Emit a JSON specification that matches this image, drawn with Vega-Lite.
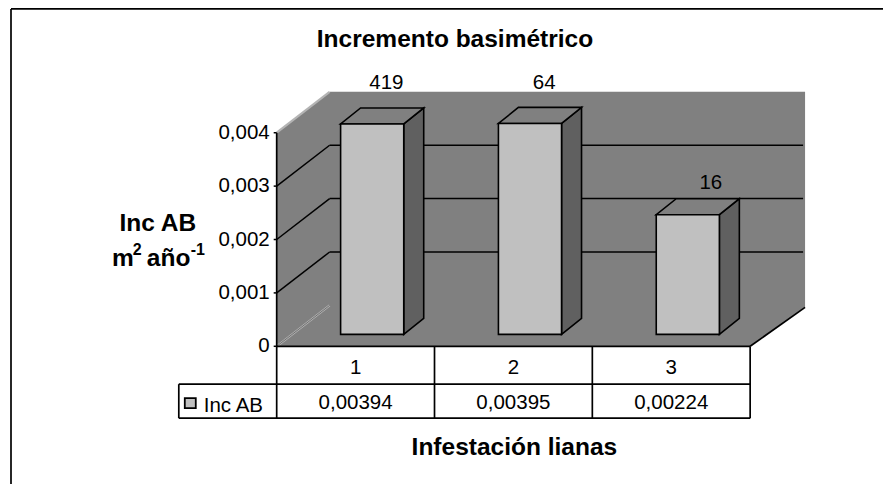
{
"$schema":"https://vega.github.io/schema/vega-lite/v6.json",
"width":884,"height":485,"padding":0,
"autosize":{"type":"fit","contains":"padding"},
"background":"white",
"config":{"view":{"stroke":null},"axis":{"disable":true},"legend":{"disable":true},"text":{"font":"Liberation Sans"}},
"datasets":{
"barras":[{"categoria":1,"incremento":0.00394,"n":419,"etiqueta":"0,00394"},{"categoria":2,"incremento":0.00395,"n":64,"etiqueta":"0,00395"},{"categoria":3,"incremento":0.00224,"n":16,"etiqueta":"0,00224"}],
"marcas":[{"tick":0,"label":"0"},{"tick":0.001,"label":"0,001"},{"tick":0.002,"label":"0,002"},{"tick":0.003,"label":"0,003"},{"tick":0.004,"label":"0,004"}],
"pared":[{"x":0.5,"y":0,"y2":0.004},{"x":0.8354,"y":0,"y2":0.004766},{"x":3.5,"y":0,"y2":0.004766},{"x":3.848,"y":0.000729,"y2":0.004766}],
"lineas":[
{"x":-1.1835,"x2":-1.1835,"y":0.006318,"y2":-0.00258},
{"x":-1.1835,"x2":4.3418,"y":0.006318,"y2":0.006318},
{"x":0.5,"x2":0.5,"y":0.004,"y2":-0.001346},
{"x":1.5,"x2":1.5,"y":0,"y2":-0.001346},
{"x":2.5,"x2":2.5,"y":0,"y2":-0.001346},
{"x":3.5,"x2":3.5,"y":0,"y2":-0.001346},
{"x":-0.1203,"x2":-0.1203,"y":-0.00071,"y2":-0.001346},
{"x":0.5,"x2":3.5,"y":0,"y2":0},
{"x":-0.1203,"x2":3.5,"y":-0.00071,"y2":-0.00071},
{"x":-0.1203,"x2":3.5,"y":-0.001346,"y2":-0.001346},
{"x":3.5,"x2":3.848,"y":0,"y2":0.000729}
],
"bordes":[{"x":0.5,"x2":0.8354,"y":0.004,"y2":0.004766},{"x":0.5,"x2":0.8354,"y":0,"y2":0.000766}],
"negrita":[
{"t":"Incremento basimétrico","x":1.6297,"y":0.005738},
{"t":"Infestación lianas","x":2.006,"y":-0.001907},
{"t":"Inc AB","x":-0.2532,"y":0.002299}
]
},
"layer":[
{"data":{"name":"lineas"},"transform":[{"filter":"datum.x<-1"}],"mark":{"type":"rule","color":"black","strokeWidth":1.7},
 "encoding":{"x":{"field":"x","type":"quantitative","scale":{"domain":[-1.2532,4.3418],"nice":false,"zero":false}},"x2":{"field":"x2"},
 "y":{"field":"y","type":"quantitative","scale":{"domain":[-0.0025794,0.006486],"nice":false,"zero":false}},"y2":{"field":"y2"}}},
{"data":{"name":"barras"},"transform":[{"filter":"datum.incremento>0.003"},{"calculate":"datum.categoria+0.105+0.09","as":"vx"},{"calculate":"0.004766+0.00005","as":"vy"}],
 "mark":{"type":"text","fontSize":20.5,"baseline":"alphabetic","align":"center","color":"black"},
 "encoding":{"x":{"field":"vx","type":"quantitative"},"y":{"field":"vy","type":"quantitative"},"text":{"field":"n"}}},
{"data":{"name":"pared"},"mark":{"type":"area","orient":"vertical","color":"#808080"},
 "encoding":{"x":{"field":"x","type":"quantitative"},"y":{"field":"y","type":"quantitative"},"y2":{"field":"y2"}}},
{"data":{"name":"marcas"},"transform":[{"filter":"datum.tick>0 && datum.tick<0.004"},{"calculate":"datum.tick+0.000766","as":"yb"},{"calculate":"0.5","as":"x1"},{"calculate":"0.8354","as":"x2"}],
 "mark":{"type":"rule","color":"black","strokeWidth":1.5},
 "encoding":{"x":{"field":"x1","type":"quantitative"},"x2":{"field":"x2"},"y":{"field":"tick","type":"quantitative"},"y2":{"field":"yb"}}},
{"data":{"name":"marcas"},"transform":[{"filter":"datum.tick>0 && datum.tick<0.004"},{"calculate":"datum.tick+0.000766","as":"yb"},{"calculate":"0.8354","as":"x1"},{"calculate":"3.8354","as":"x2"}],
 "mark":{"type":"rule","color":"black","strokeWidth":1.5},
 "encoding":{"x":{"field":"x1","type":"quantitative"},"x2":{"field":"x2"},"y":{"field":"yb","type":"quantitative"}}},
{"data":{"name":"bordes"},"mark":{"type":"rule","color":"#b4b4b4","strokeWidth":2.2},
 "encoding":{"x":{"field":"x","type":"quantitative"},"x2":{"field":"x2"},"y":{"field":"y","type":"quantitative"},"y2":{"field":"y2"}}},
{"data":{"name":"bordes"},"transform":[{"filter":"datum.y==0"}],"mark":{"type":"rule","color":"#606060","strokeWidth":0.8},
 "encoding":{"x":{"field":"x","type":"quantitative"},"x2":{"field":"x2"},"y":{"field":"y","type":"quantitative"},"y2":{"field":"y2"}}},
{"data":{"name":"barras"},"transform":[{"calculate":"[0,1]","as":"k"},{"flatten":["k"]},{"calculate":"datum.categoria+0.305+datum.k*0.1266","as":"vx"},{"calculate":"0.000224+datum.k*0.0003","as":"vy"},{"calculate":"datum.incremento+0.000224+datum.k*0.0003","as":"vy2"}],
 "mark":{"type":"area","orient":"vertical","color":"#606060","stroke":"black","strokeWidth":1.6},
 "encoding":{"x":{"field":"vx","type":"quantitative"},"y":{"field":"vy","type":"quantitative"},"y2":{"field":"vy2"},"detail":{"field":"categoria"}}},
{"data":{"name":"barras"},"transform":[{"calculate":"[0,1,2,3]","as":"k"},{"flatten":["k"]},{"calculate":"datum.categoria+0.105-0.2","as":"L"},{"calculate":"datum.categoria+0.305","as":"R"},{"calculate":"datum.incremento+0.000224","as":"T"},{"calculate":"[datum.L,datum.L+0.1266,datum.R,datum.R+0.1266][datum.k]","as":"vx"},{"calculate":"[datum.T,datum.T,datum.T,datum.T+0.0003][datum.k]","as":"vy"},{"calculate":"[datum.T,datum.T+0.0003,datum.T+0.0003,datum.T+0.0003][datum.k]","as":"vy2"}],
 "mark":{"type":"area","orient":"vertical","color":"#808080","stroke":"black","strokeWidth":1.6},
 "encoding":{"x":{"field":"vx","type":"quantitative"},"y":{"field":"vy","type":"quantitative"},"y2":{"field":"vy2"},"detail":{"field":"categoria"}}},
{"data":{"name":"barras"},"transform":[{"calculate":"datum.categoria+0.105-0.2","as":"L"},{"calculate":"datum.categoria+0.305","as":"R"},{"calculate":"datum.incremento+0.000224","as":"T"},{"calculate":"0.000224","as":"B"}],
 "mark":{"type":"rect","color":"#C0C0C0","stroke":"black","strokeWidth":1.6},
 "encoding":{"x":{"field":"L","type":"quantitative"},"x2":{"field":"R"},"y":{"field":"B","type":"quantitative"},"y2":{"field":"T"}}},
{"data":{"name":"barras"},"transform":[{"filter":"datum.incremento<0.003"},{"calculate":"datum.categoria+0.105+0.146","as":"vx"},{"calculate":"datum.incremento+0.000224+0.0003+0.00018","as":"vy"}],
 "mark":{"type":"text","fontSize":20.5,"baseline":"alphabetic","align":"center","color":"black"},
 "encoding":{"x":{"field":"vx","type":"quantitative"},"y":{"field":"vy","type":"quantitative"},"text":{"field":"n"}}},
{"data":{"name":"lineas"},"transform":[{"filter":"datum.x>-1"}],"mark":{"type":"rule","color":"black","strokeWidth":1.7},
 "encoding":{"x":{"field":"x","type":"quantitative"},"x2":{"field":"x2"},"y":{"field":"y","type":"quantitative"},"y2":{"field":"y2"}}},
{"data":{"name":"marcas"},"transform":[{"calculate":"0.481","as":"x1"},{"calculate":"0.5","as":"x2"}],"mark":{"type":"rule","color":"black","strokeWidth":1.5},
 "encoding":{"x":{"field":"x1","type":"quantitative"},"x2":{"field":"x2"},"y":{"field":"tick","type":"quantitative"}}},
{"data":{"name":"marcas"},"transform":[{"calculate":"0.4557","as":"x1"}],"mark":{"type":"text","fontSize":20.5,"align":"right","baseline":"middle","color":"black"},
 "encoding":{"x":{"field":"x1","type":"quantitative"},"y":{"field":"tick","type":"quantitative"},"text":{"field":"label"}}},
{"data":{"name":"barras"},"transform":[{"calculate":"-0.000411","as":"vy"}],"mark":{"type":"text","fontSize":20.5,"align":"center","baseline":"middle","color":"black"},
 "encoding":{"x":{"field":"categoria","type":"quantitative"},"y":{"field":"vy","type":"quantitative"},"text":{"field":"categoria"}}},
{"data":{"name":"barras"},"transform":[{"calculate":"-0.001065","as":"vy"}],"mark":{"type":"text","fontSize":20.5,"align":"center","baseline":"middle","color":"black"},
 "encoding":{"x":{"field":"categoria","type":"quantitative"},"y":{"field":"vy","type":"quantitative"},"text":{"field":"etiqueta"}}},
{"data":{"name":"negrita"},"mark":{"type":"text","fontSize":24.5,"fontWeight":"bold","align":"center","baseline":"middle","color":"black"},
 "encoding":{"x":{"field":"x","type":"quantitative"},"y":{"field":"y","type":"quantitative"},"text":{"field":"t"}}},
{"data":{"values":[{"t":"m","x":-0.5443},{"t":"año","x":-0.3228}]},"transform":[{"calculate":"0.001495","as":"vy"}],"mark":{"type":"text","fontSize":24.5,"fontWeight":"bold","align":"left","baseline":"alphabetic","color":"black"},
 "encoding":{"x":{"field":"x","type":"quantitative"},"y":{"field":"vy","type":"quantitative"},"text":{"field":"t"}}},
{"data":{"values":[{"t":"2","x":-0.4114},{"t":"-1","x":-0.0443}]},"transform":[{"calculate":"0.001701","as":"vy"}],"mark":{"type":"text","fontSize":16,"fontWeight":"bold","align":"left","baseline":"alphabetic","color":"black"},
 "encoding":{"x":{"field":"x","type":"quantitative"},"y":{"field":"vy","type":"quantitative"},"text":{"field":"t"}}},
{"data":{"values":[{"t":"Inc AB","x":0.038,"y":-0.001121}]},"mark":{"type":"text","fontSize":20.5,"align":"left","baseline":"middle","color":"black"},
 "encoding":{"x":{"field":"x","type":"quantitative"},"y":{"field":"y","type":"quantitative"},"text":{"field":"t"}}},
{"data":{"values":[{"serie":"Inc AB","x":-0.0823,"x2":-0.0127,"y":-0.000972,"y2":-0.001159}]},"mark":{"type":"rect","color":"#C0C0C0","stroke":"black","strokeWidth":1.8},
 "encoding":{"x":{"field":"x","type":"quantitative"},"x2":{"field":"x2"},"y":{"field":"y","type":"quantitative"},"y2":{"field":"y2"}}}
]
}
